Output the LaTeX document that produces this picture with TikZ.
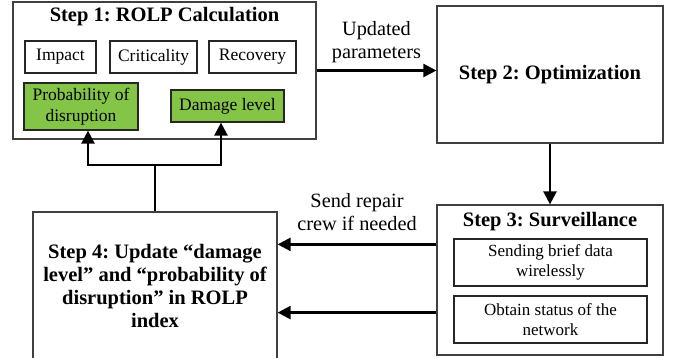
\documentclass[tikz,border=0pt]{standalone}
\usepackage{fontspec}
\setmainfont{Liberation Serif}
\usetikzlibrary{arrows.meta,positioning,calc}
\definecolor{rolpgreen}{HTML}{84C446}
\frenchspacing
\tikzset{
    % Outer step box
    stepbox/.style={
        rectangle,
        draw=black!75,
        line width=1.2pt,
        fill=white,
        align=center,
        inner sep=0pt
    },
    % Inner factor box
    factorbox/.style={
        rectangle,
        draw=black!85,
        line width=1.2pt,
        fill=white,
        align=center,
        inner sep=2pt,
        font=\fontsize{17.5}{20}\selectfont
    },
    % Green factor box
    greenbox/.style={
        factorbox,
        fill=rolpgreen
    },
    % Bold title
    steptitle/.style={
        font=\fontsize{20.5}{23}\selectfont\bfseries,
        inner sep=0pt
    },
    % Arrow style
    flowarrow/.style={
        -{Triangle[length=13pt,width=13pt]},
        line width=2.4pt
    },
    flowlabel/.style={
        font=\fontsize{20.3}{23.5}\selectfont,
        align=center
    }
}
\begin{document}
\begin{tikzpicture}[x=1pt, y=-1pt]
    \useasboundingbox (0,0) rectangle (678,358);
    \begin{scope}
    \clip (0,0) rectangle (678,358);

    % Steps
    \node[stepbox, minimum width=303pt, minimum height=137pt] (step1) at (164.5,70.5) {};
    \node[stepbox, minimum width=226pt, minimum height=137pt, steptitle] (step2) at (550,74.5) {Step 2: Optimization};
    \node[stepbox, minimum width=226pt, minimum height=150pt] (step3) at (550,280) {};
    \node[stepbox, minimum width=244pt, minimum height=148pt,
          font=\fontsize{20.5}{23.3}\selectfont\bfseries] (step4) at (155,286)
          {Step 4: Update \textquotedblleft damage\\level\textquotedblright\ and \textquotedblleft probability of\\disruption\textquotedblright\ in ROLP\\index};

    % Step 1 contents
    \node[steptitle] (title1) at (164.5,17) {Step 1: ROLP Calculation};
    \node[factorbox, minimum width=71pt, minimum height=32pt] (impact) at (60.5,57) {Impact};
    \node[factorbox, minimum width=87pt, minimum height=32pt] (critical) at (153.5,57) {Criticality};
    \node[factorbox, minimum width=87pt, minimum height=32pt] (recovery) at (252.5,57) {Recovery};
    \node[greenbox, minimum width=114pt, minimum height=47pt, font=\fontsize{17.5}{20.5}\selectfont] (prob) at (81,106.5) {Probability of\\disruption};
    \node[greenbox, minimum width=113pt, minimum height=32pt] (damage) at (227.5,106) {Damage level};

    % Step 3 contents
    \node[steptitle] (title3) at (550,222) {Step 3: Surveillance};
    \node[factorbox, minimum width=193pt, minimum height=47pt, font=\fontsize{17}{20}\selectfont] (sending) at (550.5,262.5) {Sending brief data\\wirelessly};
    \node[factorbox, minimum width=193pt, minimum height=47pt, font=\fontsize{17}{20}\selectfont] (obtain) at (550.5,319.5) {Obtain status of the\\network};

    % Connectors
    \draw[flowarrow] (step1.east) -- (step1.east -| step2.west)
        node[flowlabel, midway, above=3pt] (updated) {Updated\\parameters};
    \draw[flowarrow] (step2.south) -- (step3.north);
    \coordinate (crew) at ($(step3.north west)+(0,40)$);
    \coordinate (status) at ($(step3.south west)+(0,-43)$);
    \draw[flowarrow] (crew) -- (crew -| step4.east)
        node[flowlabel, midway, above=9pt] (repair) {Send repair\\crew if needed};
    \draw[flowarrow] (status) -- (status -| step4.east);
    \coordinate (split) at (step4.north |- 0,165);
    \draw[line width=2.4pt] (step4.north) -- (split);
    \draw[flowarrow] (split) -| ([xshift=7pt]prob.south);
    \draw[flowarrow] (split) -| ([xshift=-6.5pt]damage.south);
    \end{scope}
\end{tikzpicture}
\end{document}
